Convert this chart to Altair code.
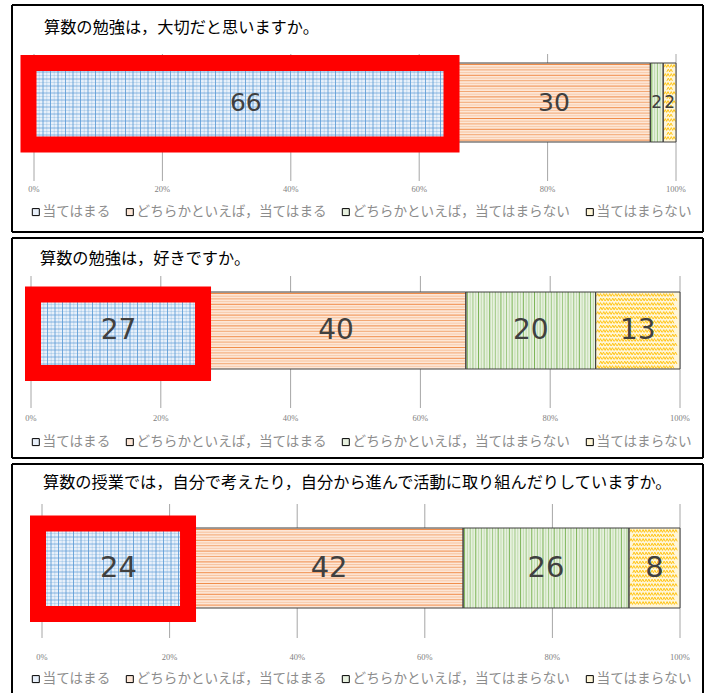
import altair as alt
import numpy as np
import pandas as pd

# ---------------- data ----------------
questions = [
    "算数の勉強は，大切だと思いますか。",
    "算数の勉強は，好きですか。",
    "算数の授業では，自分で考えたり，自分から進んで活動に取り組んだりしていますか。",
]
categories = [
    "当てはまる",
    "どちらかといえば，当てはまる",
    "どちらかといえば，当てはまらない",
    "当てはまらない",
]
values_q1 = [66, 30, 2, 2]
values_q2 = [27, 40, 20, 13]
values_q3 = [24, 42, 26, 8]
tick_values = [0, 20, 40, 60, 80, 100]

# ---------------- styles ----------------
base_fill = ["#e8f0fa", "#fde7d7", "#e7f1df", "#fff6d8"]
line_col = ["#5b9bd5", "#ed7d31", "#70ad47", "#ffc000"]
CJK = "Noto Sans CJK JP"

layouts = [
    dict(W=691, H=227, x0=22, x100=664, top=58, bottom=137, gt=49, gb=176, ty=184,
         lx=17, ly=200, tx=32, tyt=23, fs=25, bottom_border=True,
         red=dict(xo=-5.5, x2o=-6.2, yo=0, y2o=2.5)),
    dict(W=691, H=220, x0=19, x100=668, top=54, bottom=131, gt=38, gb=170, ty=180,
         lx=17, ly=197, tx=28, tyt=21, fs=28, bottom_border=True,
         red=dict(xo=2, x2o=-3.2, yo=2.5, y2o=4)),
    dict(W=691, H=229, x0=30, x100=668, top=64, bottom=144, gt=40, gb=174, ty=193,
         lx=17, ly=208, tx=31, tyt=19, fs=29, bottom_border=False,
         red=dict(xo=-4, x2o=-7.1, yo=-4.5, y2o=6)),
]


def pattern_data(df, L):
    ppx = 100.0 / (L["x100"] - L["x0"])
    bh = float(L["bottom"] - L["top"])
    vrows, hrows, zrows = [], [], []
    segs = list(zip(df["start"], df["end"]))
    # blue grid
    s, e = segs[0]
    x, k = s + 1.5 * ppx, 0
    while x < e - 0.8 * ppx:
        vrows.append(dict(x=x, c=line_col[0], op=0.85 if k % 2 == 0 else 0.25))
        x += 3.75 * ppx
        k += 1
    f, k = 2.0 / bh, 0
    while f < 1 - 1.0 / bh:
        hrows.append(dict(start=s, end=e, f=f, c=line_col[0], op=0.7 if k % 2 == 0 else 0.25))
        f += 3.5 / bh
        k += 1
    # orange horizontal stripes
    s, e = segs[1]
    f, k = 1.5 / bh, 0
    cyc = [0.85, 0.35, 0.6, 0.25]
    while f < 1 - 1.0 / bh:
        hrows.append(dict(start=s, end=e, f=f, c=line_col[1], op=cyc[k % 4]))
        f += 2.7 / bh
        k += 1
    # green vertical stripes
    s, e = segs[2]
    x, k = s + 1.5 * ppx, 0
    cyc = [0.9, 0.3, 0.6, 0.3]
    while x < e - 0.8 * ppx:
        vrows.append(dict(x=x, c=line_col[2], op=cyc[k % 4]))
        x += 2.8 * ppx
        k += 1
    # yellow zigzag
    s, e = segs[3]
    f, r = 3.0 / bh, 0
    while f < 1 - 2.0 / bh:
        x = s + (3.5 + (3 if r % 2 else 0)) * ppx
        while x < e - 3.0 * ppx:
            zrows.append(dict(x=x, f=f))
            x += 6 * ppx
        f += 4.5 / bh
        r += 1
    return pd.DataFrame(vrows), pd.DataFrame(hrows), pd.DataFrame(zrows)


def panel(q, vals, L):
    df = pd.DataFrame({"cat": categories, "order": list(range(4)), "value": vals})
    df["end"] = df["value"].cumsum()
    df["start"] = df["end"] - df["value"]
    df["mid"] = (df["start"] + df["end"]) / 2
    df["fs"] = [L["fs"] if v >= 5 else 17 for v in vals]

    xs = alt.Scale(domain=[0, 100], range=[L["x0"], L["x100"]], nice=False, zero=False)
    ys = alt.Scale(domain=[0, 1], range=[L["top"], L["bottom"]], nice=False, zero=False)

    ticks = pd.DataFrame({"tick": tick_values})
    ticks["lab"] = [f"{t}%" for t in tick_values]

    grid = alt.Chart(ticks).mark_rule(color="#a6a6a6", strokeWidth=1).encode(
        x=alt.X("tick:Q", scale=xs, axis=None),
        y=alt.value(L["gt"]), y2=alt.value(L["gb"]),
    )
    ticklab = alt.Chart(ticks).mark_text(
        font="Liberation Serif", fontSize=8.5, color="#7f7f7f", baseline="middle", align="center"
    ).encode(x=alt.X("tick:Q", scale=xs, axis=None), y=alt.value(L["ty"]), text="lab:N")

    bars = alt.Chart(df).mark_rect(strokeWidth=0).encode(
        x=alt.X("start:Q", scale=xs, axis=None), x2="end:Q",
        y=alt.YDatum(0, scale=ys, axis=None), y2=alt.Y2Datum(1),
        fill=alt.Fill("cat:N", scale=alt.Scale(domain=categories, range=base_fill),
                      legend=alt.Legend(
                          orient="none", legendX=L["lx"], legendY=L["ly"], direction="horizontal",
                          columns=4, title=None, symbolType="square", symbolSize=49,
                          symbolStrokeColor="#000000", symbolStrokeWidth=1, symbolOpacity=1,
                          labelFont=CJK, labelFontSize=13.6, labelColor="#8c8c8c",
                          labelLimit=600, labelOffset=0, columnPadding=12, padding=0)),
    )
    vdf, hdf, zdf = pattern_data(df, L)
    vlines = alt.Chart(vdf).mark_rule(strokeWidth=1).encode(
        x=alt.X("x:Q", scale=xs, axis=None),
        y=alt.YDatum(0, scale=ys, axis=None), y2=alt.Y2Datum(1),
        color=alt.Color("c:N", scale=None), opacity=alt.Opacity("op:Q", scale=None),
    )
    hlines = alt.Chart(hdf).mark_rule(strokeWidth=1).encode(
        x=alt.X("start:Q", scale=xs, axis=None), x2="end:Q",
        y=alt.Y("f:Q", scale=ys, axis=None),
        color=alt.Color("c:N", scale=None), opacity=alt.Opacity("op:Q", scale=None),
    )
    zig = alt.Chart(zdf).mark_point(
        shape="M-1,0.5L-0.5,-0.5L0,0.5L0.5,-0.5L1,0.5", filled=False, size=30,
        stroke=line_col[3], strokeWidth=1, opacity=0.9,
    ).encode(x=alt.X("x:Q", scale=xs, axis=None), y=alt.Y("f:Q", scale=ys, axis=None))

    outline = alt.Chart(df).mark_rect(fillOpacity=0, stroke="#3f3f3f", strokeWidth=1).encode(
        x=alt.X("start:Q", scale=xs, axis=None), x2="end:Q",
        y=alt.YDatum(0, scale=ys, axis=None), y2=alt.Y2Datum(1),
    )
    R = L["red"]
    red = alt.Chart(df.iloc[[0]]).mark_rect(
        filled=False, stroke="#ff0000", strokeWidth=16,
        xOffset=R["xo"], x2Offset=R["x2o"], yOffset=R["yo"], y2Offset=R["y2o"],
    ).encode(
        x=alt.X("start:Q", scale=xs, axis=None), x2="end:Q",
        y=alt.YDatum(0, scale=ys, axis=None), y2=alt.Y2Datum(1),
    )
    labels = alt.Chart(df).mark_text(
        font="DejaVu Sans", color="#404040", baseline="middle", align="center"
    ).encode(
        x=alt.X("mid:Q", scale=xs, axis=None), y=alt.YDatum(0.5, scale=ys, axis=None),
        text="value:Q", size=alt.Size("fs:Q", scale=None),
    )
    title = alt.Chart(pd.DataFrame({"t": [q]})).mark_text(
        font=CJK, fontSize=16.2, color="#000000", align="left", baseline="middle"
    ).encode(x=alt.value(L["tx"]), y=alt.value(L["tyt"]), text="t:N")

    # panel frame
    dummy = alt.Data(values=[{"k": 1}])
    bw = 2
    frame = [
        alt.Chart(dummy).mark_rule(color="#000000", strokeWidth=bw).encode(
            x=alt.value(0), x2=alt.value(L["W"]), y=alt.value(0)),
        alt.Chart(dummy).mark_rule(color="#000000", strokeWidth=bw).encode(
            x=alt.value(0), y=alt.value(0), y2=alt.value(L["H"])),
        alt.Chart(dummy).mark_rule(color="#000000", strokeWidth=bw).encode(
            x=alt.value(L["W"]), y=alt.value(0), y2=alt.value(L["H"])),
    ]
    if L["bottom_border"]:
        frame.append(alt.Chart(dummy).mark_rule(color="#000000", strokeWidth=bw).encode(
            x=alt.value(0), x2=alt.value(L["W"]), y=alt.value(L["H"])))

    return alt.layer(grid, bars, vlines, hlines, zig, outline, red, labels, ticklab, title,
                     *frame).properties(width=L["W"], height=L["H"])


p1 = panel(questions[0], values_q1, layouts[0])
p2 = panel(questions[1], values_q2, layouts[1])
p3 = panel(questions[2], values_q3, layouts[2])

chart = (
    alt.vconcat(p1, p2, p3, spacing=6, bounds="flush")
    .resolve_scale(x="independent", y="independent", fill="independent")
    .resolve_legend(fill="independent")
    .properties(padding={"left": 11, "top": 4, "right": 2, "bottom": 0}, background="white")
    .configure_view(strokeWidth=0)
)

chart.save("out.html", embed_options={"renderer": "svg", "actions": False})
